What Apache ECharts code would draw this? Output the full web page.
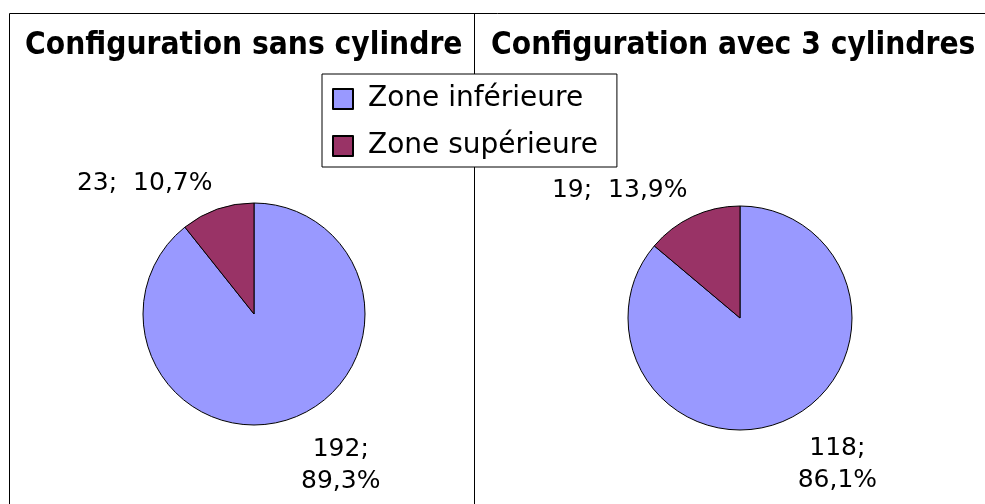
<!DOCTYPE html>
<html>
<head>
<meta charset="utf-8">
<title>Zones</title>
<script src="https://cdn.jsdelivr.net/npm/echarts@6/dist/echarts.min.js"></script>
<style>
  html, body { margin: 0; padding: 0; background: #fff; }
</style>
</head>
<body>
<div id="main" style="width:985px;height:504px;"></div>
<script type="text/javascript">
var zones = ['Zone inférieure', 'Zone supérieure'];
var titles = ['Configuration sans cylindre', 'Configuration avec 3 cylindres'];
var sansCylindre = [192, 23];
var avecCylindres = [118, 19];
var colors = ['#9999ff', '#993366'];

var myChart = echarts.init(document.getElementById('main'));

function pct(p) {
    return p.toFixed(1).replace('.', ',') + '%';
}

// big slice label sits under the pie on two lines, small one above on one line
function labelFormatter(params) {
    if (params.dataIndex === 0) {
        return '{c|' + params.value + ';}\n{c|' + pct(params.percent) + '}';
    }
    return params.value + ';  ' + pct(params.percent);
}

function pieSeries(values, center, radius, lines) {
    return {
        type: 'pie',
        center: center,
        radius: radius,
        startAngle: 90,
        clockwise: true,
        avoidLabelOverlap: false,
        animation: false,
        data: values.map(function (v, i) {
            return { name: zones[i], value: v, labelLine: lines[i] };
        }),
        itemStyle: { borderColor: '#000', borderWidth: 1 },
        emphasis: { disabled: true },
        label: {
            show: true,
            position: 'outside',
            formatter: labelFormatter,
            fontFamily: 'DejaVu Sans',
            fontSize: 25,
            color: '#000',
            rich: {
                c: { width: 84, align: 'center', fontFamily: 'DejaVu Sans', fontSize: 25, color: '#000', lineHeight: 32 }
            }
        },
        labelLine: { show: false }
    };
}

var titleStyle = { fontFamily: 'DejaVu Sans Condensed', fontWeight: 'bold', fontSize: 31.4, color: '#000' };

var option = {
    color: colors,
    backgroundColor: '#fff',
    title: [{
        text: titles[0],
        left: 20,
        top: 25,
        textStyle: titleStyle
    }, {
        text: titles[1],
        left: 486,
        top: 25,
        textStyle: titleStyle
    }],
    legend: {
        orient: 'vertical',
        left: 322,
        top: 74,
        data: zones,
        icon: 'rect',
        itemWidth: 20,
        itemHeight: 20,
        itemGap: 19,
        padding: [11, 19, 7, 10],
        backgroundColor: '#fff',
        borderColor: '#000',
        borderWidth: 1,
        selectedMode: false,
        textStyle: { fontFamily: 'DejaVu Sans', fontSize: 28, color: '#000', padding: [0, 0, 0, 10] }
    },
    graphic: [{
        type: 'rect',
        z: 0,
        shape: { x: 9.5, y: 13.5, width: 1000, height: 600 },
        style: { fill: null, stroke: '#000', lineWidth: 1 }
    }, {
        type: 'line',
        z: 0,
        shape: { x1: 474.5, y1: 13, x2: 474.5, y2: 504 },
        style: { stroke: '#000', lineWidth: 1 }
    }],
    series: [
        pieSeries(sansCylindre, [254, 314], 111, [{ show: false, length: 49, length2: -13 }, { show: false, length: 27, length2: -9 }]),
        pieSeries(avecCylindres, [740, 318], 112, [{ show: false, length: 50, length2: -18 }, { show: false, length: 29, length2: -12 }])
    ]
};
myChart.setOption(option);
</script>
</body>
</html>
